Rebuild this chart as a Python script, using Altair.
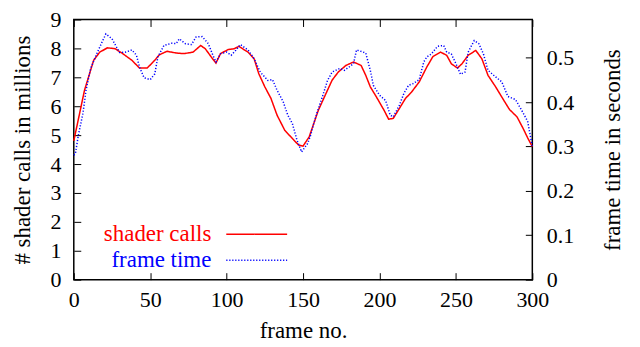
import altair as alt
import pandas as pd

# ---- data ----
red_frames = [0, 7, 13, 17, 22, 27, 32, 38, 43, 48, 53, 56, 61, 67, 72, 78, 83, 86, 90, 93,
              96, 101, 105, 108, 114, 118, 121, 125, 129, 133, 138, 142, 147, 150, 154, 157,
              160, 165, 169, 173, 178, 183, 188, 191, 194, 198, 203, 206, 209, 213, 217, 221,
              226, 231, 235, 240, 244, 247, 251, 254, 258, 263, 267, 271, 276, 280, 285, 290,
              294, 297, 300]
red_values = [4.80, 6.55, 7.59, 7.87, 8.02, 7.99, 7.82, 7.59, 7.32, 7.32, 7.59, 7.78, 7.90, 7.84,
              7.82, 7.87, 8.10, 7.99, 7.70, 7.49, 7.82, 7.96, 7.99, 8.07, 7.87, 7.64, 7.13, 6.67,
              6.27, 5.69, 5.17, 4.94, 4.66, 4.62, 4.94, 5.40, 5.86, 6.44, 6.90, 7.18, 7.41, 7.53,
              7.41, 7.07, 6.67, 6.32, 5.86, 5.55, 5.58, 5.92, 6.27, 6.49, 6.84, 7.36, 7.72, 7.87,
              7.76, 7.47, 7.32, 7.47, 7.76, 7.93, 7.64, 7.07, 6.67, 6.32, 5.89, 5.63, 5.23, 4.90,
              4.60]

blue_frames = [0, 1, 3, 6, 8, 11, 15, 18, 21, 25, 28, 30, 34, 38, 41, 43, 46, 50, 53, 55, 59,
               64, 67, 69, 73, 77, 80, 84, 88, 91, 93, 96, 100, 103, 106, 109, 114, 118, 122,
               127, 130, 133, 137, 140, 143, 146, 149, 153, 155, 157, 159, 163, 166, 169, 174,
               177, 180, 183, 185, 191, 194, 196, 200, 204, 207, 209, 213, 216, 219, 222, 226,
               229, 231, 234, 238, 242, 244, 247, 250, 253, 256, 258, 262, 265, 268, 271, 276,
               280, 284, 289, 293, 296, 297, 300]
blue_values = [0.281, 0.283, 0.326, 0.375, 0.427, 0.476, 0.509, 0.532, 0.554, 0.543, 0.524,
               0.512, 0.513, 0.518, 0.506, 0.479, 0.455, 0.451, 0.464, 0.502, 0.528, 0.533,
               0.532, 0.543, 0.532, 0.530, 0.547, 0.548, 0.532, 0.506, 0.491, 0.509, 0.513,
               0.506, 0.517, 0.530, 0.518, 0.498, 0.468, 0.449, 0.451, 0.427, 0.401, 0.371,
               0.352, 0.315, 0.288, 0.307, 0.326, 0.352, 0.375, 0.416, 0.449, 0.468, 0.476,
               0.472, 0.479, 0.487, 0.518, 0.511, 0.472, 0.438, 0.416, 0.404, 0.371, 0.367,
               0.393, 0.420, 0.438, 0.442, 0.451, 0.491, 0.502, 0.509, 0.526, 0.528, 0.513,
               0.509, 0.487, 0.463, 0.468, 0.513, 0.539, 0.532, 0.509, 0.472, 0.457, 0.446,
               0.413, 0.406, 0.382, 0.363, 0.356, 0.300]

x_ticks = [0, 50, 100, 150, 200, 250, 300]
left_ticks = [0, 1, 2, 3, 4, 5, 6, 7, 8, 9]
right_ticks = [0, 0.1, 0.2, 0.3, 0.4, 0.5]
series_names = ["shader calls", "frame time"]
series_colors = ["#ff0000", "#0000ff"]

red_df = pd.DataFrame({"frame": red_frames, "value": red_values, "series": series_names[0]})
blue_df = pd.DataFrame({"frame": blue_frames, "seconds": blue_values, "series": series_names[1]})

FONT = "'Liberation Serif', 'Times New Roman', Times, serif"
FS_TICK = 22
FS_TITLE = 23

color_scale = alt.Scale(domain=series_names, range=series_colors)
dash_scale = alt.Scale(domain=series_names, range=[[1, 0], [1.2, 1.8]])
x_scale = alt.Scale(domain=[0, 300], nice=False, zero=False)

legend = alt.Legend(
    title=None, orient="none", legendX=172, legendY=204,
    symbolType="M-4,0H4", symbolSize=233, symbolStrokeWidth=1.5,
    labelFont=FONT, labelFontSize=FS_TITLE, labelAlign="right",
    labelOffset={"expr": "-57"},
    labelColor={"expr": "datum.label == 'shader calls' ? '#ff0000' : '#0000ff'"},
    rowPadding=2,
)

red = alt.Chart(red_df).mark_line(strokeWidth=1.5).encode(
    x=alt.X("frame:Q", scale=x_scale,
            axis=alt.Axis(orient="bottom", values=x_ticks, offset=-7, tickSize=7,
                          domain=False, grid=False, labelPadding=10, labelFlush=False,
                          title="frame no.", titlePadding=9)),
    y=alt.Y("value:Q", scale=alt.Scale(domain=[0, 9], nice=False),
            axis=alt.Axis(orient="left", values=left_ticks, offset=-7, tickSize=7,
                          domain=False, grid=False, labelPadding=13, labelFlush=False,
                          title="# shader calls in millions", titlePadding=15)),
    color=alt.Color("series:N", scale=color_scale, legend=legend),
    strokeDash=alt.StrokeDash("series:N", scale=dash_scale, legend=legend),
)

blue = alt.Chart(blue_df).mark_line(strokeWidth=1.5).encode(
    x=alt.X("frame:Q", scale=x_scale,
            axis=alt.Axis(orient="top", values=x_ticks, offset=-7, tickSize=7,
                          domain=False, grid=False, labels=False, title=None)),
    y=alt.Y("seconds:Q", scale=alt.Scale(domain=[0, 0.5865], nice=False),
            axis=alt.Axis(orient="right", values=right_ticks, offset=-7, tickSize=7,
                          domain=False, grid=False, labelPadding=14, labelFlush=False,
                          labelExpr="datum.value == 0 ? '0' : format(datum.value, '.1f')",
                          title="frame time in seconds", titleAngle=270, titlePadding=51)),
    color=alt.Color("series:N", scale=color_scale, legend=legend),
    strokeDash=alt.StrokeDash("series:N", scale=dash_scale, legend=legend),
)

chart = alt.layer(red, blue).resolve_scale(y="independent").resolve_axis(x="independent").properties(
    width=460, height=261,
    autosize=alt.AutoSizeParams(type="none"),
    padding={"left": 66, "top": 11, "right": 100, "bottom": 62},
    background="white",
).configure_view(stroke="black", strokeWidth=1.5).configure_axis(
    labelFont=FONT, labelFontSize=FS_TICK, labelColor="black",
    titleFont=FONT, titleFontSize=FS_TITLE, titleFontWeight="normal", titleColor="black",
    tickColor="black", tickWidth=1,
)

chart.save("out.html", embed_options={"renderer": "svg", "actions": False})
